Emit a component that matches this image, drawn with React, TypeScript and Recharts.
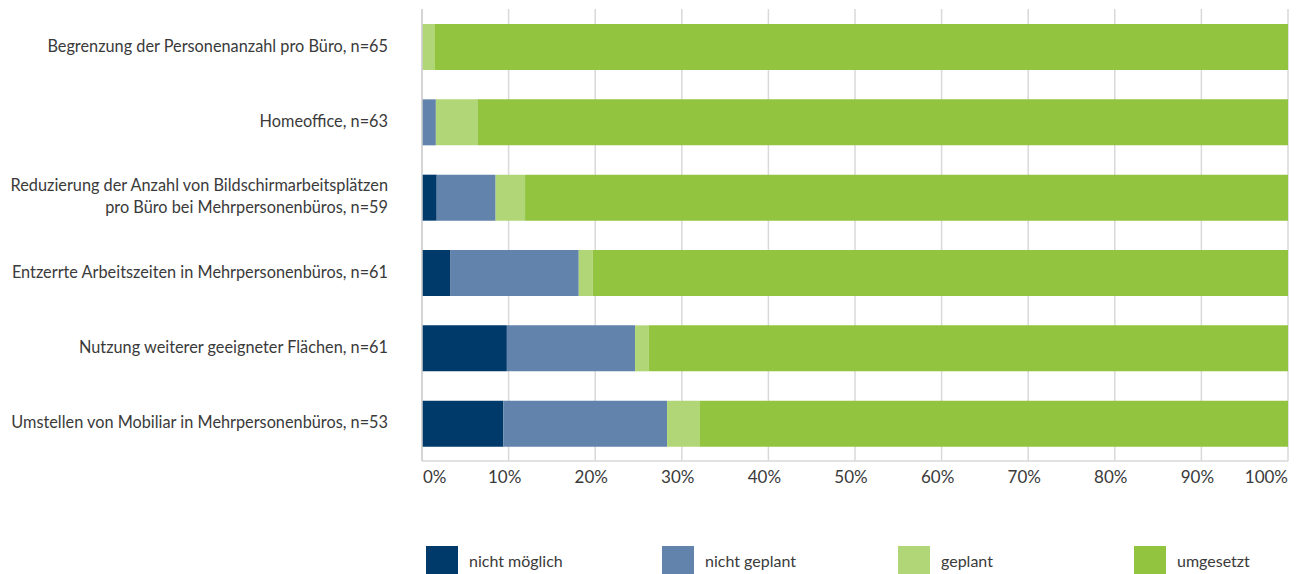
import { Bar, BarChart, CartesianGrid, XAxis, YAxis } from 'recharts';

const categories = [
  'Begrenzung der Personenanzahl pro Büro, n=65',
  'Homeoffice, n=63',
  'Reduzierung der Anzahl von Bildschirmarbeitsplätzen\npro Büro bei Mehrpersonenbüros, n=59',
  'Entzerrte Arbeitszeiten in Mehrpersonenbüros, n=61',
  'Nutzung weiterer geeigneter Flächen, n=61',
  'Umstellen von Mobiliar in Mehrpersonenbüros, n=53',
];

const nichtMoeglich = [0, 0, 1.7, 3.3, 9.8, 9.4];
const nichtGeplant = [0, 1.6, 6.8, 14.8, 14.8, 18.9];
const geplant = [1.5, 4.8, 3.4, 1.6, 1.6, 3.8];
const umgesetzt = [98.5, 93.6, 88.1, 80.3, 73.8, 67.9];

const xTicks = [0, 10, 20, 30, 40, 50, 60, 70, 80, 90, 100];

const series = [
  { key: 'nichtMoeglich', label: 'nicht möglich', color: '#003a6b' },
  { key: 'nichtGeplant', label: 'nicht geplant', color: '#6283ab' },
  { key: 'geplant', label: 'geplant', color: '#b1d677' },
  { key: 'umgesetzt', label: 'umgesetzt', color: '#92c43f' },
];

const data = categories.map((name, i) => ({
  name,
  nichtMoeglich: nichtMoeglich[i],
  nichtGeplant: nichtGeplant[i],
  geplant: geplant[i],
  umgesetzt: umgesetzt[i],
}));

const FONT = 'Lato, "Open Sans", sans-serif';
const TEXT = '#3a3a3a';

function CategoryTick({ x, y, payload }: any) {
  const lines = String(payload.value).split('\n');
  const lh = 22;
  const start = -((lines.length - 1) * lh) / 2;
  return (
    <text x={x} y={y} textAnchor="end" fill={TEXT} fontSize={16.3} fontFamily={FONT}>
      {lines.map((l, i) => (
        <tspan key={i} x={x - 26} dy={i === 0 ? start + 5 : lh}>
          {l}
        </tspan>
      ))}
    </text>
  );
}

function PercentTick({ x, y, payload }: any) {
  const v = payload.value as number;
  const anchor = v === 0 ? 'start' : v === 100 ? 'end' : 'middle';
  const dx = v === 0 ? 1 : v === 100 ? 0 : -4;
  return (
    <text x={x + dx} y={y} dy={14} textAnchor={anchor} fill={TEXT} fontSize={17} fontFamily={FONT}>
      {`${v}%`}
    </text>
  );
}

export default function App() {
  return (
    <div style={{ position: 'absolute', left: 0, top: 0, width: 1305, height: 574, background: '#fff', fontFamily: FONT }}>
      <BarChart
        width={1305}
        height={574}
        data={data}
        layout="vertical"
        margin={{ top: 9, right: 17, bottom: 83, left: 0 }}
        barSize={46}
      >
        <CartesianGrid stroke="#d9d9d9" strokeWidth={1.5} horizontal={false} />
        <XAxis
          type="number"
          domain={[0, 100]}
          ticks={xTicks}
          tick={<PercentTick />}
          tickLine={false}
          axisLine={{ stroke: '#d9d9d9', strokeWidth: 1.5 }}
          height={30}
          interval={0}
        />
        <YAxis
          type="category"
          dataKey="name"
          width={422}
          tick={<CategoryTick />}
          tickLine={false}
          axisLine={{ stroke: '#d0d0d0', strokeWidth: 1.5 }}
          interval={0}
        />
        {series.map((s) => (
          <Bar key={s.key} dataKey={s.key} name={s.label} stackId="a" fill={s.color} isAnimationActive={false} />
        ))}
      </BarChart>
      <div style={{ position: 'absolute', top: 546, left: 426, display: 'flex' }}>
        {series.map((s) => (
          <div key={s.key} style={{ width: 236, display: 'flex', alignItems: 'center' }}>
            <div style={{ width: 32, height: 28, background: s.color }} />
            <span style={{ marginLeft: 11, fontSize: 16, color: TEXT }}>{s.label}</span>
          </div>
        ))}
      </div>
    </div>
  );
}
